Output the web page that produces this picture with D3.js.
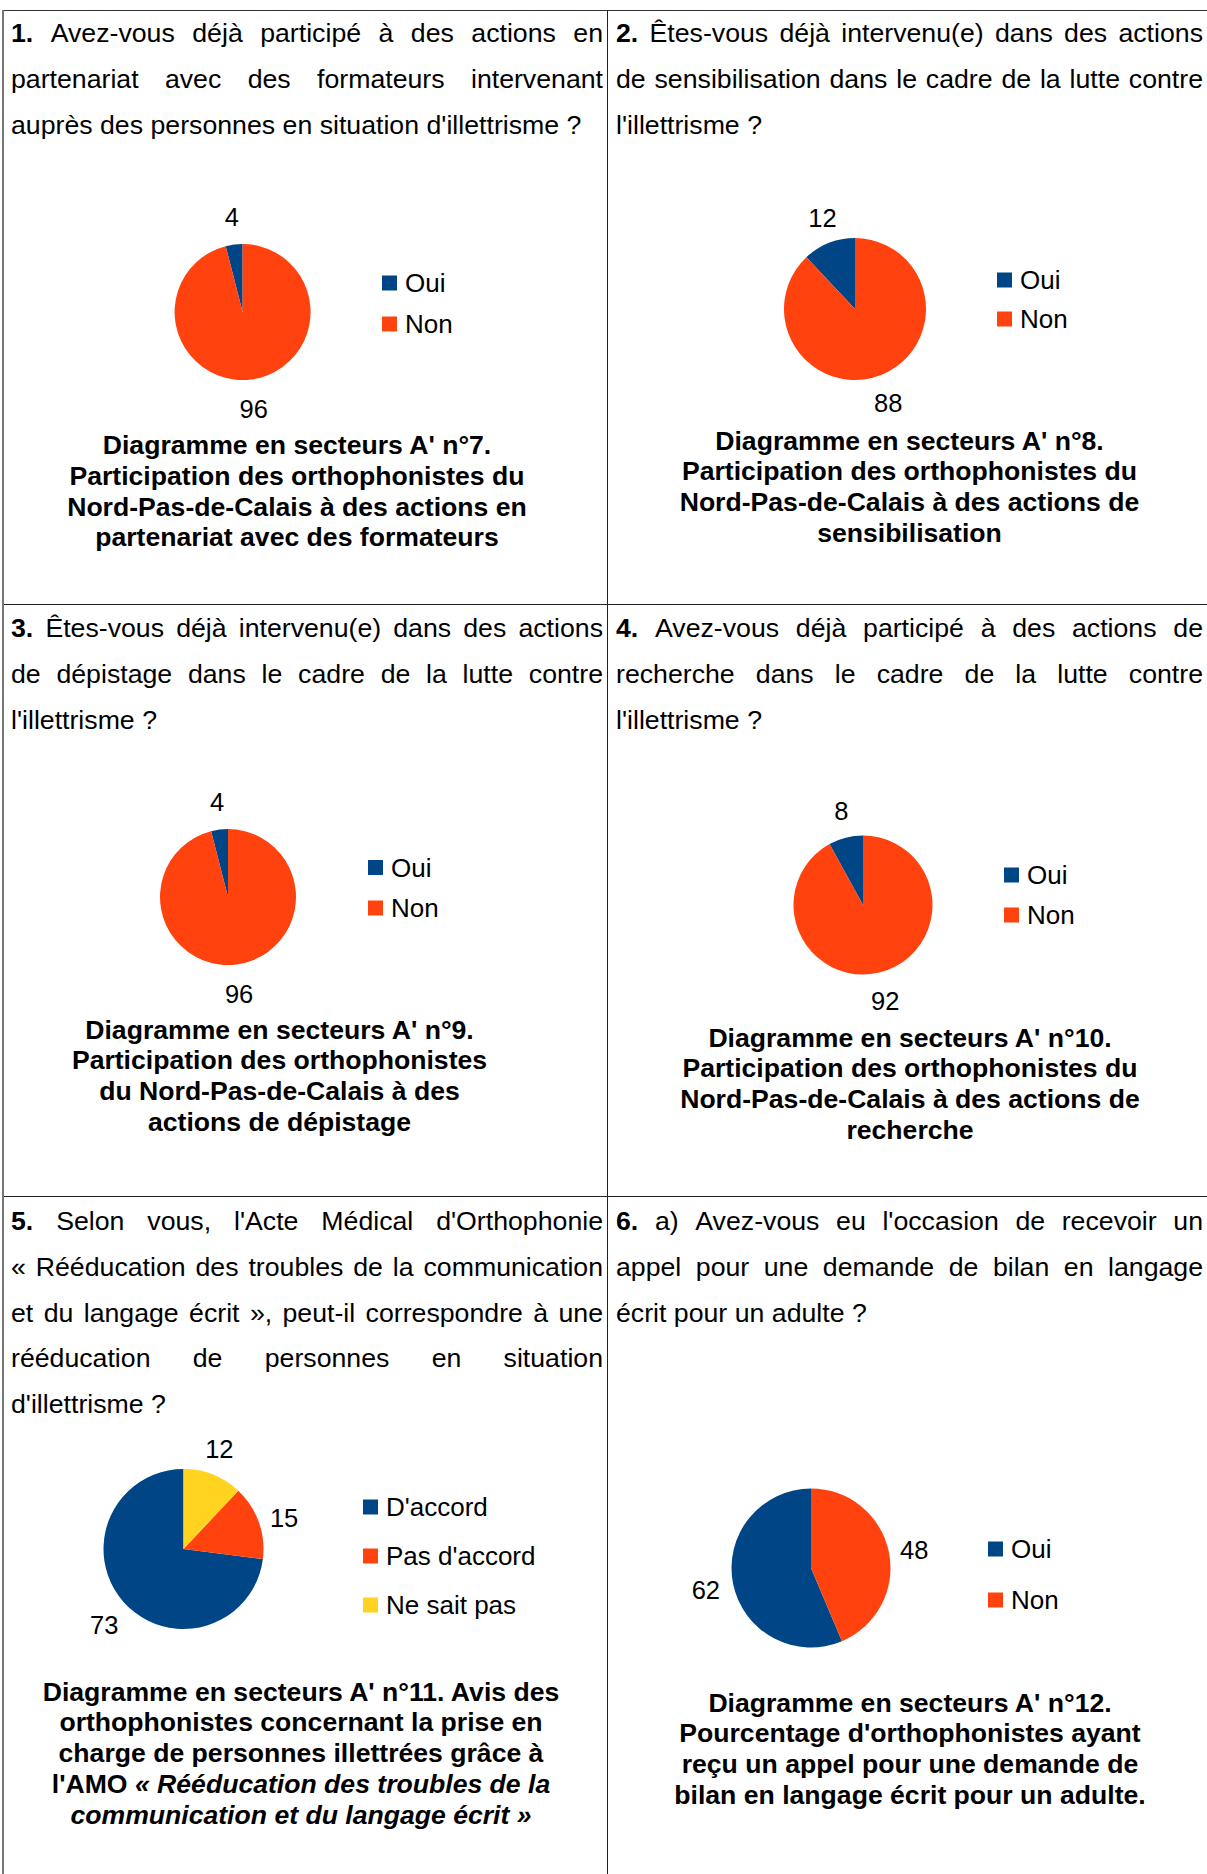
<!DOCTYPE html>
<html><head><meta charset="utf-8">
<script src="https://cdn.jsdelivr.net/npm/d3@7"></script>
<style>
body{margin:0;background:#fff}
svg{display:block}
text{font-family:"Liberation Sans",Arial,Helvetica,sans-serif;fill:#000}
</style>
</head><body>
<svg id="c" width="1207" height="1874"></svg>
<script>
// ---------- DATA ----------
const catsOuiNon = ["Oui", "Non"];
const catsAvis = ["D'accord", "Pas d'accord", "Ne sait pas"];
const values7 = [4, 96];
const values8 = [12, 88];
const values9 = [4, 96];
const values10 = [8, 92];
const values11 = [73, 15, 12];
const values12 = [62, 48];
const palette = ["#004586", "#ff420e", "#ffd320"];

const questionNumbers = ["1.", "2.", "3.", "4.", "5.", "6."];
const questionLines = [
  ["Avez-vous déjà participé à des actions en", "partenariat avec des formateurs intervenant", "auprès des personnes en situation d'illettrisme ?"],
  ["Êtes-vous déjà intervenu(e) dans des actions", "de sensibilisation dans le cadre de la lutte contre", "l'illettrisme ?"],
  ["Êtes-vous déjà intervenu(e) dans des actions", "de dépistage dans le cadre de la lutte contre", "l'illettrisme ?"],
  ["Avez-vous déjà participé à des actions de", "recherche dans le cadre de la lutte contre", "l'illettrisme ?"],
  ["Selon vous, l'Acte Médical d'Orthophonie", "« Rééducation des troubles de la communication", "et du langage écrit », peut-il correspondre à une", "rééducation de personnes en situation", "d'illettrisme ?"],
  ["a) Avez-vous eu l'occasion de recevoir un", "appel pour une demande de bilan en langage", "écrit pour un adulte ?"]
];
// "|" separates the bold part from the bold-italic part
const captionLines = [
  ["Diagramme en secteurs A' n°7.", "Participation des orthophonistes du", "Nord-Pas-de-Calais à des actions en", "partenariat avec des formateurs"],
  ["Diagramme en secteurs A' n°8.", "Participation des orthophonistes du", "Nord-Pas-de-Calais à des actions de", "sensibilisation"],
  ["Diagramme en secteurs A' n°9.", "Participation des orthophonistes", "du Nord-Pas-de-Calais à des", "actions de dépistage"],
  ["Diagramme en secteurs A' n°10.", "Participation des orthophonistes du", "Nord-Pas-de-Calais à des actions de", "recherche"],
  ["Diagramme en secteurs A' n°11. Avis des", "orthophonistes concernant la prise en", "charge de personnes illettrées grâce à", "l'AMO |« Rééducation des troubles de la", "|communication et du langage écrit »"],
  ["Diagramme en secteurs A' n°12.", "Pourcentage d'orthophonistes ayant", "reçu un appel pour une demande de", "bilan en langage écrit pour un adulte."]
];
const pieCats = [catsOuiNon, catsOuiNon, catsOuiNon, catsOuiNon, catsAvis, catsOuiNon];
const pieValues = [values7, values8, values9, values10, values11, values12];

// ---------- LAYOUT ----------
const layout = [
  {x0: 11, x1: 603, qy: 42,   cx: 242.6, cy: 312,  r: 68,   lx: 382, ly: [283, 324],        capX: 297,   capY: 454},
  {x0: 616, x1: 1203, qy: 42, cx: 855,   cy: 309,  r: 71,   lx: 997, ly: [280, 319],        capX: 909.5, capY: 449.5},
  {x0: 11, x1: 603, qy: 637,  cx: 228,   cy: 897,  r: 68,   lx: 368, ly: [867.5, 908],      capX: 279.5, capY: 1038.5},
  {x0: 616, x1: 1203, qy: 637,cx: 863,   cy: 905,  r: 69.5, lx: 1004, ly: [875, 915],       capX: 910,   capY: 1046.5},
  {x0: 11, x1: 603, qy: 1230, cx: 183.5, cy: 1549, r: 80,   lx: 363, ly: [1507, 1556, 1605], capX: 301,   capY: 1700.5},
  {x0: 616, x1: 1203, qy: 1230,cx: 811,  cy: 1568, r: 79.5, lx: 988, ly: [1549, 1600],      capX: 910,   capY: 1711.5}
];
const QFS = 26.7, QLH = 45.8, CFS = 26.6, CLH = 30.8, LFS = 26, NFS = 25.5;

const svg = d3.select("#c");

// grid lines
const grid = svg.append("g").attr("shape-rendering", "crispEdges");
grid.append("line").attr("x1", 3).attr("x2", 1207).attr("y1", 10.5).attr("y2", 10.5).attr("stroke", "#333").attr("stroke-width", 1.2);
grid.append("line").attr("x1", 3).attr("x2", 1207).attr("y1", 604.5).attr("y2", 604.5).attr("stroke", "#222").attr("stroke-width", 1.2);
grid.append("line").attr("x1", 3).attr("x2", 1207).attr("y1", 1196.5).attr("y2", 1196.5).attr("stroke", "#222").attr("stroke-width", 1.2);
grid.append("line").attr("x1", 3).attr("x2", 3).attr("y1", 10).attr("y2", 1874).attr("stroke", "#777").attr("stroke-width", 1.5);
grid.append("line").attr("x1", 607.5).attr("x2", 607.5).attr("y1", 10).attr("y2", 1874).attr("stroke", "#222").attr("stroke-width", 1.3);

function drawLine(g, words, x0, x1, y, justify) {
  const nodes = words.map(w => {
    const t = g.append("text").attr("y", y).attr("font-size", QFS);
    w.forEach(s => t.append("tspan").attr("font-weight", s.b ? "bold" : null).text(s.t));
    return t;
  });
  const widths = nodes.map(n => n.node().getComputedTextLength());
  const total = d3.sum(widths);
  const gap = (justify && words.length > 1) ? (x1 - x0 - total) / (words.length - 1) : QFS * 0.278;
  let x = x0;
  nodes.forEach((n, i) => { n.attr("x", x); x += widths[i] + gap; });
}

layout.forEach((L, p) => {
  const g = svg.append("g");
  // question
  const lines = questionLines[p];
  lines.forEach((ln, i) => {
    let words = ln.split(" ").map(w => [{t: w}]);
    if (i === 0) words.unshift([{t: questionNumbers[p], b: true}]);
    drawLine(g, words, L.x0, L.x1, L.qy + i * QLH, i < lines.length - 1);
  });

  // pie (counter-clockwise from 12 o'clock)
  const vals = pieValues[p], cats = pieCats[p];
  const data = cats.map((c, i) => ({cat: c, value: vals[i], color: palette[i]}));
  const pie = d3.pie().value(d => d.value).sort(null).startAngle(0).endAngle(-2 * Math.PI);
  const arc = d3.arc().innerRadius(0).outerRadius(L.r);
  const arcs = pie(data);
  const pg = g.append("g").attr("transform", `translate(${L.cx},${L.cy})`);
  pg.selectAll("path").data(arcs).join("path").attr("d", arc).attr("fill", d => d.data.color);
  // value labels outside the slices
  pg.selectAll("text").data(arcs).join("text")
    .attr("font-size", NFS)
    .attr("text-anchor", "middle")
    .attr("dy", "0.35em")
    .text(d => d.data.value)
    .each(function(d) {
      const a = (d.startAngle + d.endAngle) / 2;
      const s = Math.sin(a), c = -Math.cos(a);
      const hw = this.getComputedTextLength() / 2, hh = 9;
      const gap = 11 + 7.3 * c * c + (c > 0 ? 2 : 0);
      const dist = L.r + gap;
      let x = s * dist, y = c * dist;
      if (Math.abs(s) > 0.7) x += Math.sign(s) * hw * Math.min(1, (Math.abs(s) - 0.6) / 0.3);
      if (Math.abs(c) > 0.6) y += Math.sign(c) * hh;
      if (c > 0) y += 4 * Math.abs(s);
      d3.select(this).attr("x", x).attr("y", y);
    });

  // legend
  const lg = g.append("g");
  data.forEach((d, i) => {
    const y = L.ly[i];
    lg.append("rect").attr("x", L.lx).attr("y", y - 7.5).attr("width", 15).attr("height", 15).attr("fill", d.color);
    lg.append("text").attr("x", L.lx + 23).attr("y", y + 9.2).attr("font-size", LFS).text(d.cat);
  });

  // caption
  captionLines[p].forEach((ln, i) => {
    const t = g.append("text").attr("x", L.capX).attr("y", L.capY + i * CLH)
      .attr("text-anchor", "middle").attr("font-size", CFS).attr("font-weight", "bold");
    const parts = ln.split("|");
    if (parts[0]) t.append("tspan").text(parts[0]);
    if (parts.length > 1) t.append("tspan").attr("font-style", "italic").text(parts[1]);
  });
});
</script>
</body></html>
